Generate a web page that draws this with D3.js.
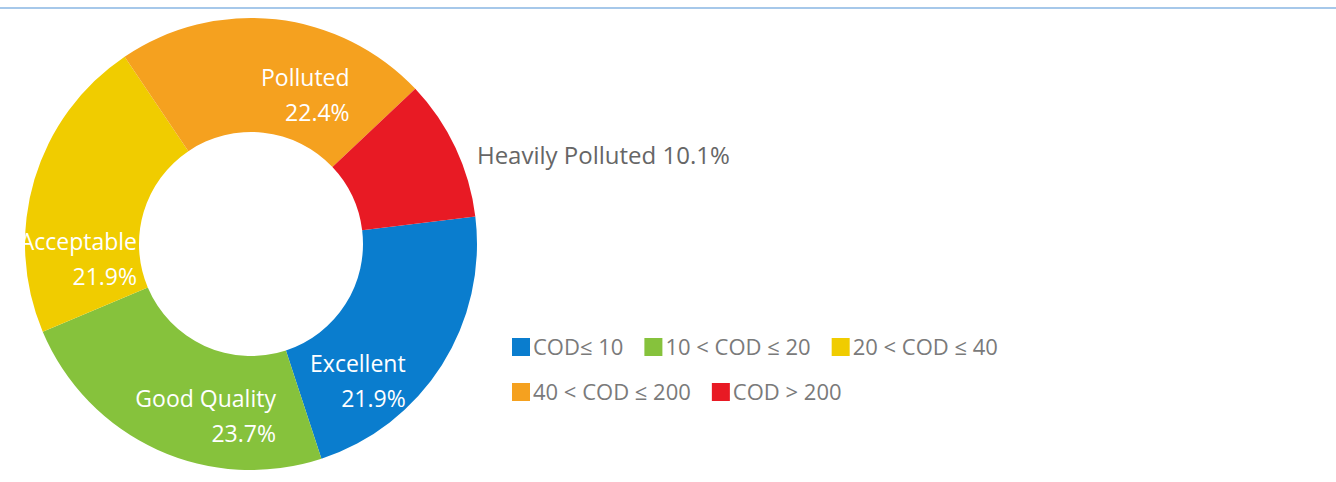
<!DOCTYPE html>
<html>
<head>
<meta charset="utf-8">
<script src="https://cdn.jsdelivr.net/npm/d3@7"></script>
<style>
  html, body { margin: 0; padding: 0; background: #ffffff; }
  svg { display: block; }
  text { font-family: "Open Sans", "Noto Sans", sans-serif; }
</style>
</head>
<body>
<svg id="chart" width="1336" height="482"></svg>
<script>
// ---- data ----
const categories = ["Excellent", "Good Quality", "Acceptable", "Polluted", "Heavily Polluted"];
const values = [21.9, 23.7, 21.9, 22.4, 10.1];
const legendLabels = ["COD\u2264 10", "10 < COD \u2264 20", "20 < COD \u2264 40", "40 < COD \u2264 200", "COD > 200"];
const colors = ["#0a7dce", "#86c23c", "#f0cc00", "#f5a11f", "#e81a24"];

// ---- layout (not data) ----
const W = 1336, H = 482;
const cx = 251, cy = 244, outerR = 226, innerR = 112;
const startDeg = 83;
// label offsets relative to slice centroid (right-aligned two-line labels)
const labelOffsets = [[12, 37], [95, 9], [48, 54], [80, 10], [73, -8]];
const lineGap = 35;

const svg = d3.select("#chart");

// header rule
svg.append("line")
  .attr("x1", 0).attr("x2", W).attr("y1", 8).attr("y2", 8)
  .attr("stroke", "#a6c8ea").attr("stroke-width", 2);

const pie = d3.pie().sort(null).value(d => d)
  .startAngle(startDeg * Math.PI / 180)
  .endAngle(startDeg * Math.PI / 180 + 2 * Math.PI);
const arcs = pie(values);
const arc = d3.arc().innerRadius(innerR).outerRadius(outerR);
const color = d3.scaleOrdinal().domain(categories).range(colors);

const g = svg.append("g").attr("transform", `translate(${cx},${cy})`);

g.selectAll("path.slice").data(arcs).enter().append("path")
  .attr("class", "slice")
  .attr("d", arc)
  .attr("fill", (d, i) => color(categories[i]));

// clip for in-ring labels
const defs = svg.append("defs");
defs.append("clipPath").attr("id", "ringClip")
  .append("circle").attr("cx", 0).attr("cy", 0).attr("r", outerR);

const fmt = v => v.toFixed(1) + "%";

const inner = g.append("g").attr("clip-path", "url(#ringClip)");
arcs.forEach((d, i) => {
  const c = arc.centroid(d);
  const [ox, oy] = labelOffsets[i];
  if (i < 4) {
    const t = inner.append("text")
      .attr("x", c[0] + ox).attr("y", c[1] + oy)
      .attr("text-anchor", "end")
      .attr("fill", "#ffffff")
      .attr("font-size", 23);
    t.append("tspan").attr("x", c[0] + ox).attr("dy", 0).text(categories[i]);
    t.append("tspan").attr("x", c[0] + ox).attr("dy", lineGap).text(fmt(values[i]));
  } else {
    g.append("text")
      .attr("x", c[0] + ox).attr("y", c[1] + oy)
      .attr("text-anchor", "start")
      .attr("fill", "#666666")
      .attr("font-size", 24)
      .text(categories[i] + " " + fmt(values[i]));
  }
});

// legend (flow layout, two rows, clipped at right)
defs.append("clipPath").attr("id", "legendClip")
  .append("rect").attr("x", 480).attr("y", 300).attr("width", 518).attr("height", 140);

const legend = svg.append("g").attr("clip-path", "url(#legendClip)");
const rows = [[0, 1, 2], [3, 4]];
const rowY = [355, 400];
const legendX = 512, sq = 18, gap = 3, itemGap = 21;
rows.forEach((row, r) => {
  let x = legendX;
  row.forEach(i => {
    legend.append("rect")
      .attr("x", x).attr("y", rowY[r] - 17)
      .attr("width", sq).attr("height", sq)
      .attr("fill", colors[i]);
    const t = legend.append("text")
      .attr("x", x + sq + gap).attr("y", rowY[r])
      .attr("fill", "#7a7a7a")
      .attr("font-size", 22)
      .text(legendLabels[i]);
    x += sq + gap + t.node().getComputedTextLength() + itemGap;
  });
});
</script>
</body>
</html>
